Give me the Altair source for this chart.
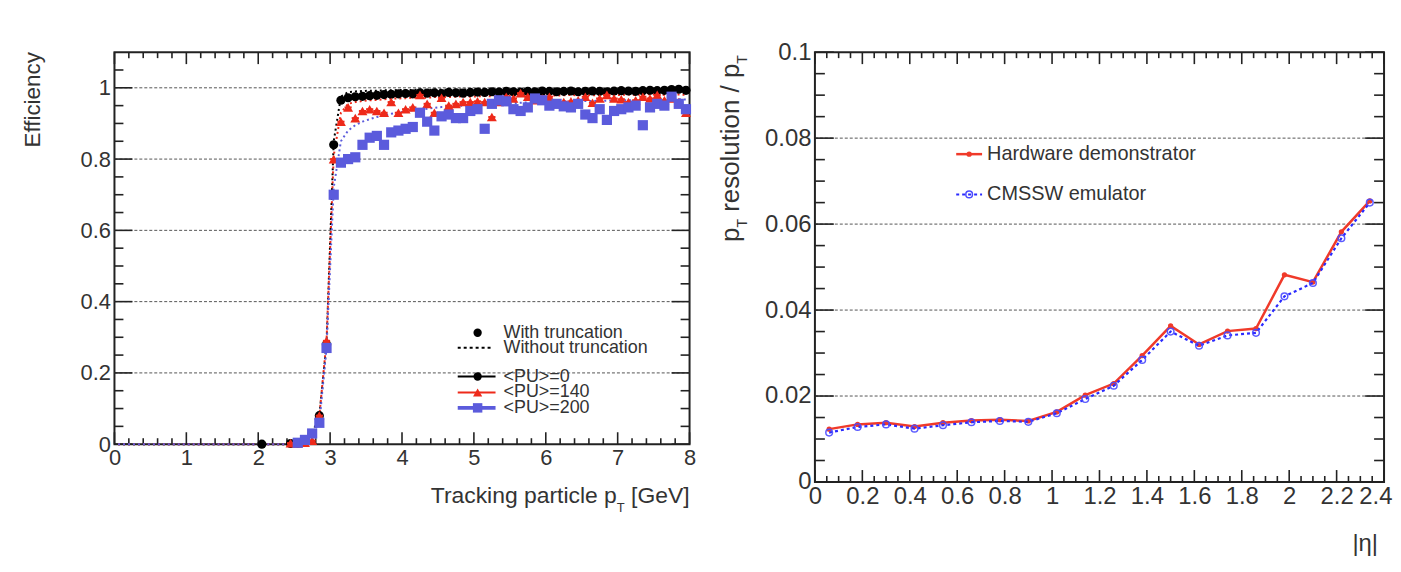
import altair as alt
import pandas as pd

FONT = "Liberation Sans"
TXT = "#333333"
FRAME = "#222222"
GRIDC = "#555555"
BLACK = "#000000"
RED = "#ee2a1a"
BLUE = "#5b5bdc"
HW_RED = "#f03a2a"
EMU_BLUE = "#2a2aff"

# ---------------- left panel data: efficiency vs tracking particle pT ----------------
PT_BINS = [2.05, 2.45, 2.55, 2.65, 2.75, 2.85, 2.95,
           3.05, 3.15, 3.25, 3.35, 3.45, 3.55, 3.65, 3.75, 3.85, 3.95,
           4.05, 4.15, 4.25, 4.35, 4.45, 4.55, 4.65, 4.75, 4.85, 4.95,
           5.05, 5.15, 5.25, 5.35, 5.45, 5.55, 5.65, 5.75, 5.85, 5.95,
           6.05, 6.15, 6.25, 6.35, 6.45, 6.55, 6.65, 6.75, 6.85, 6.95,
           7.05, 7.15, 7.25, 7.35, 7.45, 7.55, 7.65, 7.75, 7.85, 7.95]
PT_HALF_BIN = 0.05

EFF_PU0 = [0.0, 0.002, 0.003, 0.01, 0.03, 0.08, 0.28,
           0.84, 0.965, 0.972, 0.975, 0.976, 0.978, 0.979, 0.981, 0.982, 0.983,
           0.984, 0.983, 0.986, 0.985, 0.986, 0.984, 0.987, 0.986, 0.985, 0.987,
           0.988, 0.987, 0.989, 0.988, 0.990, 0.989, 0.988, 0.990, 0.989, 0.991,
           0.990, 0.989, 0.990, 0.991, 0.989, 0.990, 0.991, 0.990, 0.989, 0.991,
           0.992, 0.991, 0.990, 0.992, 0.993, 0.992, 0.993, 0.995, 0.996, 0.993]
EFF_PU140 = [None, 0.003, 0.002, 0.004, 0.01, 0.08, 0.29,
             0.80, 0.905, 0.945, 0.915, 0.935, 0.94, 0.935, 0.93, 0.96, 0.93,
             0.94, 0.945, 0.98, 0.955, 0.93, 0.972, 0.95, 0.955, 0.96, 0.96,
             0.962, 0.96, 0.918, 0.96, 0.975, 0.97, 0.985, 0.975, 0.965, 0.97,
             0.975, 0.955, 0.96, 0.962, 0.965, 0.975, 0.958, 0.97, 0.98, 0.97,
             0.968, 0.96, 0.965, 0.975, 0.97, 0.98, 0.965, 0.97, 0.96, 0.93]
EFF_PU200 = [None, None, 0.004, 0.012, 0.03, 0.06, 0.27,
             0.70, 0.79, 0.80, 0.805, 0.84, 0.86, 0.865, 0.84, 0.875, 0.88,
             0.885, 0.89, 0.93, 0.905, 0.88, 0.92, 0.925, 0.915, 0.915, 0.935,
             0.94, 0.885, 0.955, 0.965, 0.962, 0.94, 0.935, 0.945, 0.97, 0.965,
             0.95, 0.955, 0.948, 0.945, 0.955, 0.925, 0.915, 0.94, 0.91, 0.935,
             0.94, 0.945, 0.95, 0.895, 0.945, 0.955, 0.95, 0.975, 0.955, 0.94]

NOTRUNC_BINS = [0.05, 2.45, 2.55, 2.65, 2.75, 2.85, 2.95,
                3.05, 3.15, 3.25, 3.35, 3.45, 3.55, 3.65, 3.75, 3.85, 3.95,
                4.05, 4.15, 4.25, 4.35, 4.45, 4.55, 4.65, 4.75, 4.85, 4.95,
                5.05, 5.15, 5.25, 5.35, 5.45, 5.55, 5.65, 5.75, 5.85, 5.95,
                6.05, 6.15, 6.25, 6.35, 6.45, 6.55, 6.65, 6.75, 6.85, 6.95,
                7.05, 7.15, 7.25, 7.35, 7.45, 7.55, 7.65, 7.75, 7.85, 7.95]
NOTRUNC_PU0 = [0.0, 0.0, 0.003, 0.01, 0.03, 0.08, 0.28,
               0.85, 0.975, 0.988, 0.990, 0.991, 0.992, 0.992, 0.993, 0.993, 0.994,
               0.994, 0.994, 0.995, 0.994, 0.995, 0.995, 0.994, 0.995, 0.995, 0.996,
               0.995, 0.996, 0.995, 0.996, 0.996, 0.995, 0.996, 0.996, 0.997, 0.996,
               0.996, 0.997, 0.996, 0.996, 0.997, 0.996, 0.997, 0.997, 0.996, 0.997,
               0.997, 0.996, 0.997, 0.997, 0.998, 0.997, 0.997, 0.998, 0.998, 0.997]
NOTRUNC_PU140 = [0.0, 0.0, 0.002, 0.005, 0.012, 0.08, 0.29,
                 0.81, 0.93, 0.955, 0.96, 0.963, 0.965, 0.966, 0.968, 0.97, 0.97,
                 0.971, 0.972, 0.973, 0.972, 0.974, 0.975, 0.974, 0.975, 0.976, 0.975,
                 0.976, 0.977, 0.976, 0.977, 0.978, 0.977, 0.978, 0.979, 0.978, 0.978,
                 0.979, 0.978, 0.979, 0.98, 0.979, 0.98, 0.979, 0.98, 0.981, 0.98,
                 0.98, 0.981, 0.98, 0.981, 0.982, 0.981, 0.98, 0.982, 0.981, 0.98]
NOTRUNC_PU200 = [0.0, 0.0, 0.004, 0.012, 0.03, 0.06, 0.27,
                 0.72, 0.85, 0.88, 0.895, 0.905, 0.912, 0.918, 0.922, 0.927, 0.93,
                 0.934, 0.937, 0.94, 0.941, 0.944, 0.946, 0.947, 0.949, 0.95, 0.952,
                 0.953, 0.954, 0.955, 0.956, 0.957, 0.957, 0.958, 0.959, 0.96, 0.96,
                 0.961, 0.961, 0.962, 0.962, 0.963, 0.963, 0.963, 0.964, 0.964, 0.965,
                 0.965, 0.965, 0.966, 0.966, 0.966, 0.967, 0.967, 0.967, 0.968, 0.967]

X_LABELS_L = [0, 1, 2, 3, 4, 5, 6, 7, 8]
Y_LABELS_L = [0, 0.2, 0.4, 0.6, 0.8, 1.0]
GRID_L = [0.2, 0.4, 0.6, 0.8, 1.0]
X_MINOR_L = [i * 0.2 for i in range(41) if i % 5]
Y_MINOR_L = [i * 0.05 for i in range(22) if i % 4]

LEG_TRUNC = ["With truncation", "Without truncation"]
LEG_PU = ["<PU>=0", "<PU>=140", "<PU>=200"]

# ---------------- right panel data: pT resolution vs |eta| ----------------
ETA = [0.06, 0.18, 0.30, 0.42, 0.54, 0.66, 0.78, 0.90, 1.02, 1.14,
       1.26, 1.38, 1.50, 1.62, 1.74, 1.86, 1.98, 2.10, 2.22, 2.34]
RES_HW = [0.0123, 0.0134, 0.0138, 0.0129, 0.0138, 0.0143, 0.0145, 0.0142, 0.0163, 0.0202,
          0.0229, 0.0294, 0.0363, 0.0320, 0.0351, 0.0357, 0.0482, 0.0465, 0.0582, 0.0654]
RES_EMU = [0.0115, 0.0128, 0.0134, 0.0124, 0.0132, 0.0139, 0.0142, 0.0140, 0.0160, 0.0193,
           0.0224, 0.0284, 0.0350, 0.0317, 0.0341, 0.0347, 0.0432, 0.0463, 0.0567, 0.0650]

X_LABELS_R = [0, 0.2, 0.4, 0.6, 0.8, 1, 1.2, 1.4, 1.6, 1.8, 2, 2.2, 2.4]
Y_LABELS_R = [0, 0.02, 0.04, 0.06, 0.08, 0.1]
GRID_R = [0.02, 0.04, 0.06, 0.08]
X_MINOR_R = [i * 0.05 for i in range(49) if i % 4]
Y_MINOR_R = [i * 0.005 for i in range(21) if i % 4]

LEG_RES = ["Hardware demonstrator", "CMSSW emulator"]

# ---------------- geometry ----------------
W_L, H_L = 578, 394
W_R, H_R = 572, 432

XS_L = alt.Scale(domain=[0, 8], nice=False, zero=False)
YS_L = alt.Scale(domain=[0, 1.1], nice=False, zero=False)
XS_R = alt.Scale(domain=[0, 2.4], nice=False, zero=False)
YS_R = alt.Scale(domain=[0, 0.1], nice=False, zero=False)

ONE = pd.DataFrame({"k": [0]})


def axis(values, size, pad, **extra):
    return alt.Axis(values=values, format="~g", ticks=False, tickSize=0, domain=False,
                    grid=False, labelFontSize=size, labelPadding=pad, labelColor=TXT,
                    labelFont=FONT, title=None, labelFlush=False, labelOverlap=False, **extra)


AX_LX = axis(X_LABELS_L, 22, 3)
AX_LY = axis(Y_LABELS_L, 22, 4)
# last |eta| label sits at the page edge: right-align it so it stays on the page
AX_RX = axis(X_LABELS_R, 24, 3,
             labelAlign={"condition": {"test": "datum.value > 2.3", "value": "right"},
                         "value": "center"},
             labelOffset={"condition": {"test": "datum.value > 2.3", "value": 8},
                          "value": 0})
AX_RY = axis(Y_LABELS_R, 24, 4)


def frame_ticks(vals, chan, length, scale, ax, w, h, width=1.6):
    base = alt.Chart(pd.DataFrame({"v": vals})).mark_rule(color=FRAME, strokeWidth=width)
    if chan == "x":
        enc = alt.X("v:Q", scale=scale, axis=ax)
        return [base.encode(x=enc, y=alt.value(h), y2=alt.value(h - length)),
                base.encode(x=enc, y=alt.value(0), y2=alt.value(length))]
    enc = alt.Y("v:Q", scale=scale, axis=ax)
    return [base.encode(y=enc, x=alt.value(0), x2=alt.value(length)),
            base.encode(y=enc, x=alt.value(w), x2=alt.value(w - length))]


def grid(vals, scale, ax, w):
    return alt.Chart(pd.DataFrame({"v": vals})).mark_rule(
        color=GRIDC, strokeDash=[3, 2], strokeWidth=1).encode(
        y=alt.Y("v:Q", scale=scale, axis=ax), x=alt.value(0), x2=alt.value(w))


def series(xs, ys, half=None):
    rows = [(x, y) for x, y in zip(xs, ys) if y is not None]
    df = pd.DataFrame(rows, columns=["x", "y"])
    if half is not None:
        df["lo"] = df["x"] - half
        df["hi"] = df["x"] + half
    return df


def text(t, x, y, size, align="left", baseline="middle", angle=0, color=TXT):
    kw = dict(text=t, align=align, baseline=baseline, fontSize=size, font=FONT, color=color)
    if angle:
        kw["angle"] = angle
    return alt.Chart(ONE).mark_text(**kw).encode(x=alt.value(x), y=alt.value(y))


def glyph(x, y, shape, size, color, filled=True, sw=1.5):
    return alt.Chart(ONE).mark_point(shape=shape, size=size, color=color, filled=filled,
                                     opacity=1, strokeWidth=sw).encode(
        x=alt.value(x), y=alt.value(y))


def hline(x1, x2, y, color, width, dash=None):
    kw = dict(color=color, strokeWidth=width)
    if dash:
        kw["strokeDash"] = dash
    return alt.Chart(ONE).mark_rule(**kw).encode(x=alt.value(x1), x2=alt.value(x2), y=alt.value(y))


# ---------------- left panel ----------------
def xl(f="x"):
    return alt.X(f + ":Q", scale=XS_L, axis=AX_LX)


def yl(f="y"):
    return alt.Y(f + ":Q", scale=YS_L, axis=AX_LY)


left_layers = [grid(GRID_L, YS_L, AX_LY, W_L)]
left_layers += frame_ticks(X_LABELS_L, "x", 12, XS_L, AX_LX, W_L, H_L)
left_layers += frame_ticks(X_MINOR_L, "x", 6, XS_L, AX_LX, W_L, H_L)
left_layers += frame_ticks(Y_LABELS_L, "y", 18, YS_L, AX_LY, W_L, H_L)
left_layers += frame_ticks(Y_MINOR_L, "y", 9, YS_L, AX_LY, W_L, H_L)

for ys, col in [(NOTRUNC_PU0, BLACK), (NOTRUNC_PU140, RED), (NOTRUNC_PU200, BLUE)]:
    left_layers.append(alt.Chart(series(NOTRUNC_BINS, ys)).mark_line(
        color=col, strokeDash=[2, 3], strokeWidth=2).encode(x=xl(), y=yl()))

MARK_STYLE = [(EFF_PU0, BLACK, "circle", 85, 2),
              (EFF_PU140, RED, "triangle-up", 100, 2),
              (EFF_PU200, BLUE, "square", 105, 4)]
for ys, col, shape, size, bw in MARK_STYLE:
    df = series(PT_BINS, ys, PT_HALF_BIN)
    left_layers.append(alt.Chart(df).mark_rule(color=col, strokeWidth=bw).encode(
        x=xl("lo"), x2="hi:Q", y=yl()))
    left_layers.append(alt.Chart(df).mark_point(
        shape=shape, size=size, color=col, filled=True, opacity=1).encode(x=xl(), y=yl()))

# legend
LEG_FS = 18
left_layers += [
    glyph(365, 282, "circle", 70, BLACK),
    text(LEG_TRUNC[0], 391, 282, LEG_FS),
    hline(345, 380, 297, BLACK, 2, [3, 3]),
    text(LEG_TRUNC[1], 391, 297, LEG_FS),
    hline(345, 383, 326, BLACK, 2), glyph(365, 326, "circle", 70, BLACK),
    text(LEG_PU[0], 391, 326, LEG_FS),
    hline(345, 383, 342, RED, 2), glyph(365, 342, "triangle-up", 85, RED),
    text(LEG_PU[1], 391, 342, LEG_FS),
    hline(345, 383, 357.5, BLUE, 4), glyph(365, 357.5, "square", 90, BLUE),
    text(LEG_PU[2], 391, 357.5, LEG_FS),
]
# axis titles
left_layers += [
    text("Efficiency", -75, 0, 22.5, align="right", baseline="alphabetic", angle=270),
    text("[GeV]", W_L, 453.5, 23, align="right", baseline="alphabetic"),
    text("T", W_L - 65.2, 462, 13, align="right", baseline="alphabetic"),
    text("Tracking particle p", W_L - 73.1, 453.5, 23, align="right", baseline="alphabetic"),
]

left = alt.layer(*left_layers).properties(width=W_L, height=H_L)


# ---------------- right panel ----------------
def xr(f="x"):
    return alt.X(f + ":Q", scale=XS_R, axis=AX_RX)


def yr(f="y"):
    return alt.Y(f + ":Q", scale=YS_R, axis=AX_RY)


right_layers = [grid(GRID_R, YS_R, AX_RY, W_R)]
right_layers += frame_ticks(X_LABELS_R, "x", 12, XS_R, AX_RX, W_R, H_R)
right_layers += frame_ticks(X_MINOR_R, "x", 6, XS_R, AX_RX, W_R, H_R)
right_layers += frame_ticks(Y_LABELS_R, "y", 19, YS_R, AX_RY, W_R, H_R)
right_layers += frame_ticks(Y_MINOR_R, "y", 10, YS_R, AX_RY, W_R, H_R)

hw = series(ETA, RES_HW)
emu = series(ETA, RES_EMU)
right_layers += [
    alt.Chart(hw).mark_line(color=HW_RED, strokeWidth=2.5).encode(x=xr(), y=yr()),
    alt.Chart(hw).mark_point(shape="circle", size=28, color=HW_RED, filled=True,
                             opacity=1).encode(x=xr(), y=yr()),
    alt.Chart(emu).mark_line(color=EMU_BLUE, strokeWidth=2.2, strokeDash=[3, 3]).encode(
        x=xr(), y=yr()),
    alt.Chart(emu).mark_point(shape="circle", size=45, color="#4a4aff", filled=False,
                              opacity=0.9, strokeWidth=1.5).encode(x=xr(), y=yr()),
]
right_layers += [
    hline(142, 168, 102.5, HW_RED, 2.5), glyph(155, 102.5, "circle", 28, HW_RED),
    text(LEG_RES[0], 173, 102.5, 20),
    hline(142, 168, 143, EMU_BLUE, 2, [3, 3]),
    glyph(155, 143, "circle", 45, "#4a4aff", filled=False),
    text(LEG_RES[1], 173, 143, 20),
]
right_layers += [
    text("T", -68, 3, 14, align="right", baseline="alphabetic", angle=270),
    text(" resolution / p", -76, 11.6, 26, align="right", baseline="alphabetic", angle=270),
    text("T", -68, 167.7, 14, align="right", baseline="alphabetic", angle=270),
    text("p", -76, 176.3, 26, align="right", baseline="alphabetic", angle=270),
    text("|\u03b7|", 566, 501, 24, align="right", baseline="alphabetic"),
]

right = alt.layer(*right_layers).properties(width=W_R, height=H_R)

chart = alt.hconcat(left, right, spacing=126, bounds="flush").properties(
    padding={"left": 13, "top": 30, "right": 0, "bottom": 0}
).configure(font=FONT).configure_view(stroke=FRAME, strokeWidth=2)

chart.save("out.html", embed_options={"renderer": "svg", "actions": False})
